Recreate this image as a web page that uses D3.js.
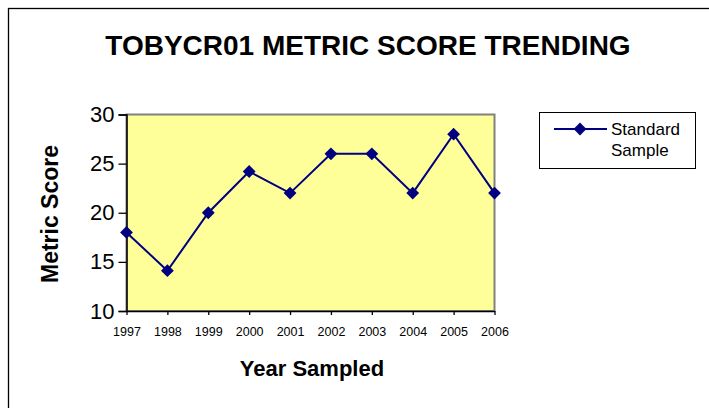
<!DOCTYPE html>
<html><head><meta charset="utf-8">
<script src="https://cdn.jsdelivr.net/npm/d3@7"></script>
<style>body{margin:0;background:#fff}svg{display:block;font-family:"Liberation Sans",Arial,sans-serif}</style>
</head><body>
<script>
const years = ["1997","1998","1999","2000","2001","2002","2003","2004","2005","2006"];
const scores = [18, 14.1, 20, 24.2, 22, 26, 26, 22, 28, 22];
const yTicks = [10, 15, 20, 25, 30];
const seriesName = ["Standard", "Sample"];
const title = "TOBYCR01 METRIC SCORE TRENDING";

const W = 709, H = 408;
const plot = {left: 126.5, right: 494.5, top: 114.5, bottom: 311};
const svg = d3.select("body").append("svg").attr("width", W).attr("height", H);

svg.append("rect").attr("x", 8.5).attr("y", 8.5).attr("width", 900).attr("height", 600)
  .attr("fill", "#fff").attr("stroke", "#000").attr("stroke-width", 1.3);

const x = d3.scalePoint().domain(years).range([plot.left, plot.right]);
const y = d3.scaleLinear().domain([10, 30]).range([plot.bottom, plot.top]);

svg.append("rect").attr("x", plot.left).attr("y", plot.top)
  .attr("width", plot.right - plot.left).attr("height", plot.bottom - plot.top)
  .attr("fill", "#FFFF99").attr("stroke", "#808080").attr("stroke-width", 2);

svg.append("text").attr("x", 368).attr("y", 55).attr("text-anchor", "middle")
  .attr("font-size", 28).attr("font-weight", "bold").text(title);

const yAxis = svg.append("g").attr("transform", `translate(${plot.left},0)`)
  .call(d3.axisLeft(y).tickValues(yTicks).tickSize(8).tickPadding(4));
yAxis.select(".domain").attr("stroke", "#000").attr("stroke-width", 1.5);
yAxis.selectAll("line").attr("stroke", "#000").attr("stroke-width", 1.3);
yAxis.selectAll("text").attr("font-size", 22).attr("font-family", "Liberation Sans, Arial").attr("fill", "#000");

const xAxis = svg.append("g").attr("transform", `translate(0,${plot.bottom})`)
  .call(d3.axisBottom(x).tickSize(4).tickPadding(12).tickSizeOuter(0));
xAxis.select(".domain").attr("stroke", "#000").attr("stroke-width", 1.5);
xAxis.selectAll("line").attr("stroke", "#000").attr("stroke-width", 1.3);
xAxis.selectAll("text").attr("font-size", 12.5).attr("font-family", "Liberation Sans, Arial").attr("fill", "#000");

svg.append("text").attr("transform", `translate(58,214) rotate(-90)`).attr("text-anchor", "middle")
  .attr("font-size", 23).attr("font-weight", "bold").text("Metric Score");
svg.append("text").attr("x", 312).attr("y", 376).attr("text-anchor", "middle")
  .attr("font-size", 22).attr("font-weight", "bold").text("Year Sampled");

const navy = "#000080";
const line = d3.line().x((d, i) => x(years[i])).y(d => y(d));
svg.append("path").datum(scores).attr("d", line).attr("fill", "none")
  .attr("stroke", navy).attr("stroke-width", 2);
svg.selectAll(".pt").data(scores).enter().append("path")
  .attr("transform", (d, i) => `translate(${x(years[i])},${y(d)}) rotate(45)`)
  .attr("d", d3.symbol().type(d3.symbolSquare).size(82)).attr("fill", navy);

// legend
const lg = svg.append("g");
lg.append("rect").attr("x", 539.5).attr("y", 112.5).attr("width", 156).attr("height", 56)
  .attr("fill", "#fff").attr("stroke", "#000").attr("stroke-width", 1);
lg.append("line").attr("x1", 554).attr("x2", 607).attr("y1", 129).attr("y2", 129)
  .attr("stroke", navy).attr("stroke-width", 2);
lg.append("path").attr("transform", "translate(580,129) rotate(45)")
  .attr("d", d3.symbol().type(d3.symbolSquare).size(82)).attr("fill", navy);
lg.selectAll(".lt").data(seriesName).enter().append("text")
  .attr("x", 611).attr("y", (d, i) => 135 + i * 21).attr("font-size", 17).text(d => d);
</script>
</body></html>
